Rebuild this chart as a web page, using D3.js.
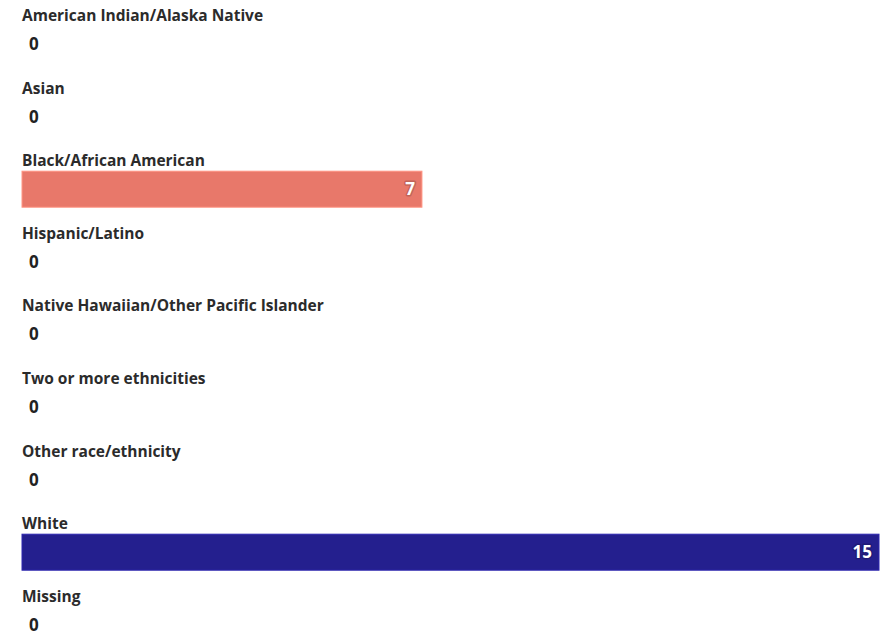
<!DOCTYPE html>
<html><head><meta charset="utf-8">
<script src="https://cdn.jsdelivr.net/npm/d3@7"></script>
<style>
html,body{margin:0;padding:0;background:#fff;}
svg{display:block;font-family:"Open Sans","Noto Sans",sans-serif;}
</style></head>
<body><svg id="chart" width="892" height="636"></svg>
<script>
const categories = ["American Indian/Alaska Native","Asian","Black/African American","Hispanic/Latino","Native Hawaiian/Other Pacific Islander","Two or more ethnicities","Other race/ethnicity","White","Missing"];
const values = [0,0,7,0,0,0,0,15,0];
const barColors = ["#e8786a","#e8786a","#e8786a","#e8786a","#e8786a","#e8786a","#e8786a","#241f8e","#e8786a"];

const svg = d3.select("#chart");
const y = d3.scaleBand().domain(categories).range([3, 3 + 9*72.6]).padding(0);
const x = d3.scaleLinear().domain([0, 15]).range([22, 879]);
const data = categories.map((c,i)=>({c, v: values[i], col: barColors[i]}));

const g = svg.selectAll("g.row").data(data).join("g").attr("class","row")
  .attr("transform", d => `translate(0,${y(d.c)})`);

g.append("text").attr("x", 22).attr("y", 18)
  .attr("font-size", 15.5).attr("font-weight", 700).attr("fill", "#2b2b2b")
  .text(d => d.c);

g.filter(d => d.v > 0).append("rect")
  .attr("x", x(0)).attr("y", 23).attr("height", 36)
  .attr("width", d => x(d.v) - x(0))
  .attr("fill", d => d.col)
  .attr("stroke", d => d3.color(d.col).brighter(0.6)).attr("stroke-width", 1);

g.append("text")
  .attr("x", d => d.v > 0 ? x(d.v) - 7 : 29)
  .attr("y", 47)
  .attr("text-anchor", d => d.v > 0 ? "end" : "start")
  .attr("font-size", 17).attr("font-weight", 700)
  .attr("fill", d => d.v > 0 ? "#fff" : "#222")
  .attr("stroke", d => d.v > 0 ? d3.color(d.col).darker(0.5) : "none")
  .attr("stroke-width", 3).attr("paint-order", "stroke")
  .attr("stroke-linejoin", "round")
  .text(d => d.v);
</script></body></html>
